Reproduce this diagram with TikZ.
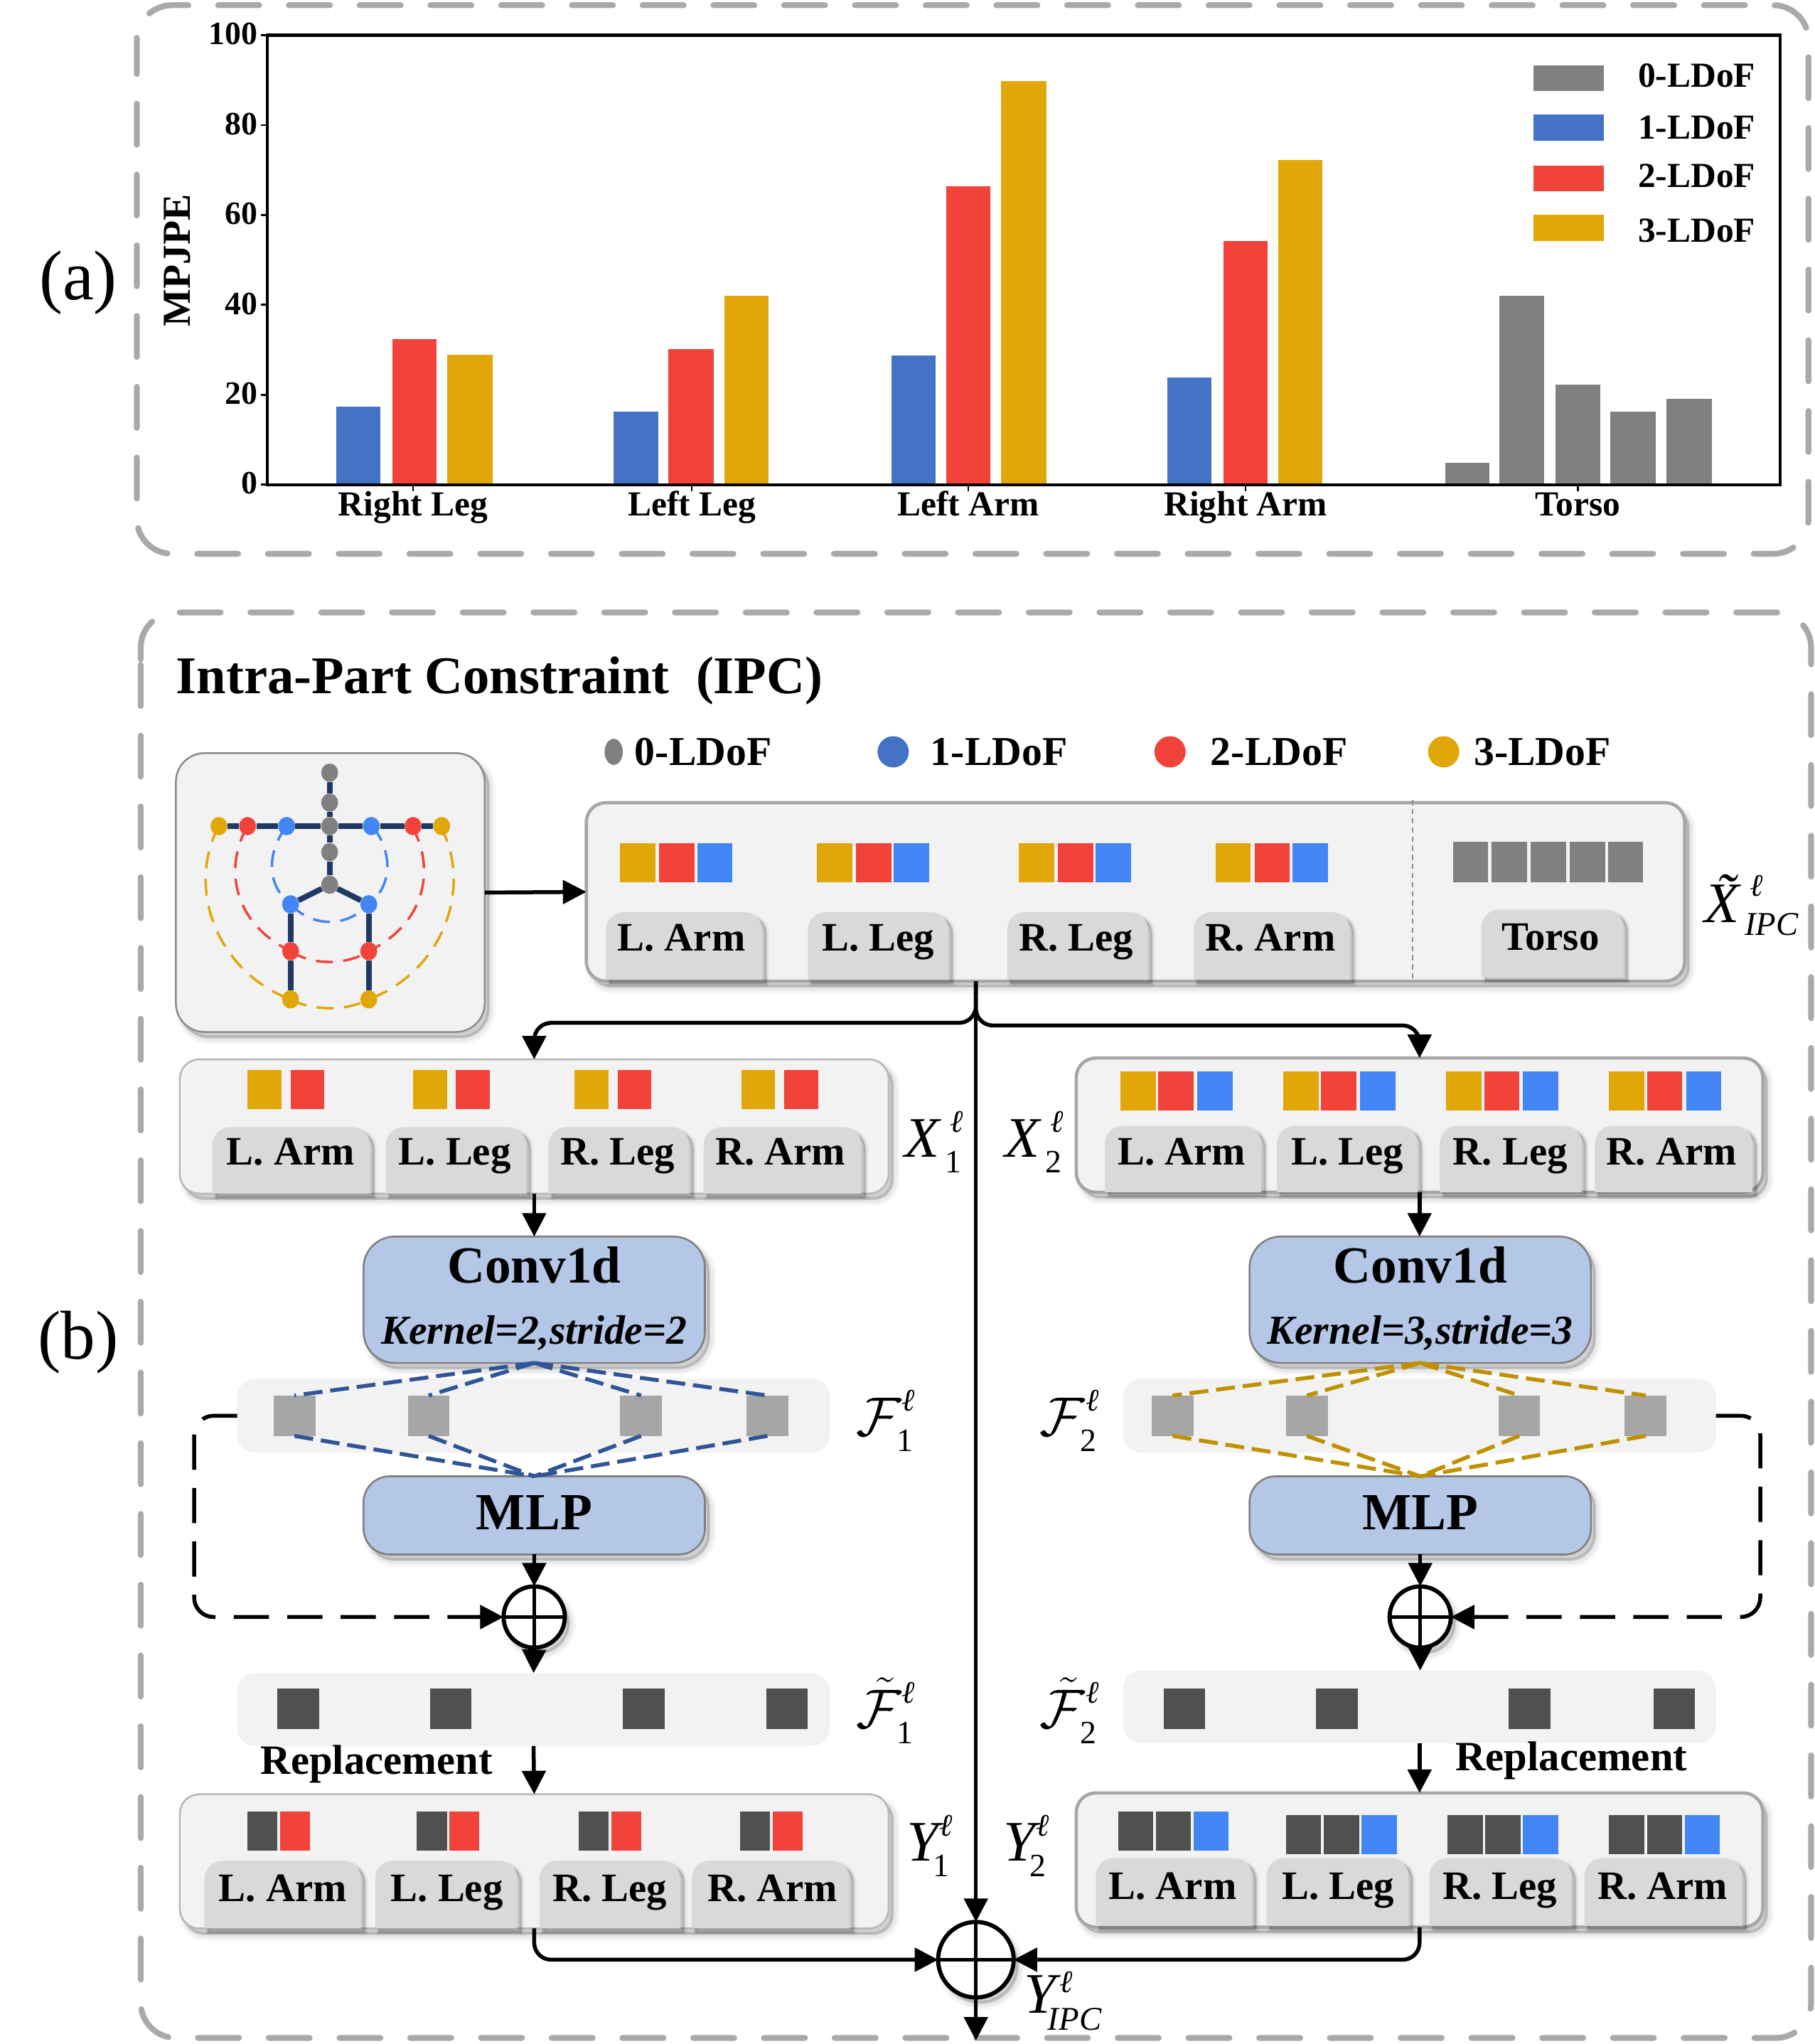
\documentclass[tikz,border=0pt]{standalone}
\usepackage{graphicx}
\usepackage{fontspec}
\setmainfont{Liberation Serif}
\usetikzlibrary{arrows.meta,shapes.geometric}
\newcommand{\fsz}[1]{\fontsize{#1}{#1}\selectfont}
\definecolor{barblue}{HTML}{4472C4}
\definecolor{barred}{HTML}{F2433B}
\definecolor{baryel}{HTML}{E1A709}
\definecolor{bargray}{HTML}{808080}
\definecolor{sqblue}{HTML}{4285F4}
\definecolor{sqgray}{HTML}{A6A6A6}
\definecolor{sqdark}{HTML}{505050}
\definecolor{boxfill}{HTML}{F2F2F2}
\definecolor{tabfillc}{HTML}{D9D9D9}
\definecolor{blockc}{HTML}{B4C7E7}
\definecolor{panelc}{HTML}{A9A9A9}
\definecolor{bone}{HTML}{1F3864}
\definecolor{dashblue}{HTML}{2F5597}
\definecolor{dashgold}{HTML}{BF9000}
\tikzset{
  softsh/.style={
    preaction={fill=black,draw=black,line width=9pt,opacity=.03,transform canvas={xshift=4pt,yshift=-5pt}},
    preaction={fill=black,draw=black,line width=5pt,opacity=.05,transform canvas={xshift=4pt,yshift=-5pt}},
    preaction={fill=black,draw=black,line width=2pt,opacity=.09,transform canvas={xshift=3pt,yshift=-4pt}}},
  tabsh/.style={
    preaction={fill=black,draw=black,line width=5pt,opacity=.04,transform canvas={xshift=3pt,yshift=-3pt}},
    preaction={fill=black,draw=black,line width=2pt,opacity=.12,transform canvas={xshift=3pt,yshift=-3pt}}},
  panel/.style={draw=panelc,line width=4.5pt,line cap=round,dash pattern=on 31.5pt off 22.8pt,rounded corners=27pt},
  boxheavy/.style={draw=sqgray,line width=2.5pt,fill=boxfill,rounded corners=15pt,softsh},
  boxthin/.style={draw=black!28,line width=1.4pt,fill=boxfill,rounded corners=15pt,softsh},
  skelbox/.style={draw=black!45,line width=1.4pt,fill=boxfill,rounded corners=22pt,softsh},
  block/.style={draw=black!50,line width=1.4pt,fill=blockc,rounded corners=24pt,softsh,align=center},
  strip/.style={fill=boxfill,rounded corners=14pt},
  tabfill/.style={fill=tabfillc,tabsh},
  tablabel/.style={font=\bfseries\fsz{31},inner sep=0pt,text height=21pt,text depth=7pt},
  blabel/.style={font=\bfseries\fsz{31.5},inner sep=0pt},
  ticklab/.style={font=\bfseries\fsz{25},inner sep=0pt,anchor=east},
  xlab/.style={font=\bfseries\fsz{27},inner sep=0pt,text height=18pt,text depth=6pt},
  leglab/.style={font=\bfseries\fsz{27},inner sep=0pt,anchor=west},
  flow/.style={draw=black,line width=3pt,-{Triangle[length=18pt,width=18pt]}},
  plain/.style={draw=black,line width=3pt},
  fbdash/.style={draw=black,line width=3pt,dash pattern=on 27pt off 14pt,rounded corners=15pt,-{Triangle[length=18pt,width=18pt]}},
  bluedash/.style={draw=dashblue,line width=3pt,dash pattern=on 14.5pt off 6pt},
  golddash/.style={draw=dashgold,line width=3pt,dash pattern=on 14.5pt off 6pt},
  oplus/.style={circle,draw=black,line width=3.2pt,fill=white,inner sep=0pt,outer sep=0pt,softsh},
  joint/.style={ellipse,inner sep=0pt},
  mathlab/.style={anchor=base west,inner sep=0pt,font=\itshape\fsz{44}},
  bonel/.style={draw=bone,line width=4.3pt},
}
% box node: style, name, x1, y1, x2, y2, text
\newcommand{\BX}[7][]{%
  \pgfmathsetmacro\cxx{(#3+#5)/2}\pgfmathsetmacro\cyy{(#4+#6)/2}%
  \pgfmathsetmacro\wwd{#5-#3}\pgfmathsetmacro\hhd{#6-#4}%
  \node[#1,minimum width=\wwd pt,minimum height=\hhd pt,inner sep=0pt,outer sep=0pt] (#2) at (\cxx,\cyy) {#7};}
% tab: x1 y1 x2 y2, label x, label y, text, name
\newcommand{\TB}[8]{%
  \pgfmathsetmacro\ya{#2+14}\pgfmathsetmacro\yb{#2+6}\pgfmathsetmacro\xa{#1+14}\pgfmathsetmacro\xb{#1+6}%
  \pgfmathsetmacro\xc{#3-14}\pgfmathsetmacro\xd{#3-6}%
  \path[tabfill] (#1,#4) -- (#1,\ya) .. controls (#1,\yb) and (\xb,#2) .. (\xa,#2) -- (\xc,#2)
     .. controls (\xd,#2) and (#3,\yb) .. (#3,\ya) -- (#3,#4) -- cycle;
  \node[tablabel] (#8) at (#5,#6) {#7};}
% math label text: base, sup x, sup raise, sub x, sub lower, sub text
\newcommand{\ML}[6]{%
  \makebox[0pt][l]{\hspace{#2pt}\raisebox{#3pt}{\fsz{24}\itshape ℓ}}%
  \makebox[0pt][l]{\hspace{#4pt}\raisebox{-#5pt}{\fsz{25}#6}}#1}
\newcommand{\scrF}{\scalebox{1.7}{$\mathcal{F}$}}
\newcommand{\scrG}{\scalebox{1.7}{$\tilde{\mathcal{F}}$}}
\begin{document}
\begin{tikzpicture}[x=1pt,y=-1pt]
\useasboundingbox (0,0) rectangle (1393,1568.7);
% ---------- panels
\draw[panel,dash phase=28.8pt] (105,29) -- (105,4) -- (1388,4) -- (1388,425) -- (105,425) -- (105,29);
\draw[panel] (108,506) -- (108,470) -- (1390,470) -- (1390,1564) -- (108,1564) -- (108,506);
\node[font=\fsz{54},inner sep=0pt] (lblA) at (60,217) {(a)};
\node[font=\fsz{53},inner sep=0pt] (lblB) at (60,1030) {(b)};
% ---------- chart
\foreach \a/\b/\c/\col in {258/292/312/barblue,301/335/260/barred,343/378/272/baryel,
  471/505/316/barblue,513/548/268/barred,556/590/227/baryel,
  684/718/273/barblue,726/760/143/barred,768/803/62/baryel,
  896/930/290/barblue,939/973/185/barred,981/1015/123/baryel,
  1109/1143/355/bargray,1151/1185/227/bargray,1194/1228/295/bargray,1236/1271/316/bargray,1279/1314/306/bargray}
  {\fill[\col] (\a,\c) rectangle (\b,372);}
\draw[line width=2.2pt] (205,27) rectangle (1366,372);
\foreach \v/\y in {0/372,20/303,40/234,60/165,80/96,100/27}{
  \draw[line width=1.5pt] (205,\y) -- (200,\y);
  \node[ticklab] (tick\v) at (198,\y-1) {\v};
}
\foreach \x/\t/\n in {317/Right Leg/rl,531/Left Leg/ll,743/Left Arm/la,956/Right Arm/ra,1211/Torso/to}{
  \draw[line width=1.2pt] (\x,372) -- (\x,377);
  \node[xlab] (x\n) at (\x,390) {\t};
}
\node[font=\bfseries\fsz{30.5},rotate=90,inner sep=0pt] (ylab) at (136,200) {MPJPE};
\foreach \y/\h/\col/\t in {60/58/bargray/0,98/98/barblue/1,137/135/barred/2,175/177/baryel/3}{
  \fill[\col] (1177,\y-10) rectangle (1231,\y+10);
  \node[leglab] (leg\t) at (1257,\h) {\t-LDoF};
}
% ---------- title and legend
\node[font=\bfseries\fsz{40.7},inner sep=0pt,anchor=base west] (title) at (135,532) {Intra-Part Constraint\ \ (IPC)};
\fill[bargray] (471,577) ellipse (7 and 10);
\node[blabel,anchor=west] (d0) at (487,577) {0-LDoF};
\fill[barblue] (685.5,577) circle (12);
\node[blabel,anchor=west] (d1) at (714,577) {1-LDoF};
\fill[barred] (898,577) circle (12);
\node[blabel,anchor=west] (d2) at (929,577) {2-LDoF};
\fill[baryel] (1108,577) circle (12);
\node[blabel,anchor=west] (d3) at (1131,577) {3-LDoF};
% ---------- skeleton
\BX[skelbox]{skel}{135}{578}{372}{792}{}
\begin{scope}[line width=1.9pt,dash pattern=on 13pt off 8pt]
\draw[sqblue] (220,634) .. controls (204,655) and (205,680) .. (223,694);
\draw[sqblue] (286,634) .. controls (302,655) and (301,680) .. (283,694);
\draw[sqblue] (223,694) .. controls (240,712) and (266,712) .. (283,694);
\draw[barred] (190,634) .. controls (172,665) and (178,708) .. (223,730);
\draw[barred] (316,634) .. controls (334,665) and (328,708) .. (283,730);
\draw[barred] (223,730) .. controls (240,741) and (266,741) .. (283,730);
\draw[baryel] (168,634) .. controls (143,680) and (165,745) .. (223,767);
\draw[baryel] (338,634) .. controls (363,680) and (341,745) .. (283,767);
\draw[baryel] (223,767) .. controls (240,776) and (266,776) .. (283,767);
\end{scope}
\foreach \n/\x/\y/\c in {jh/253/593/bargray,jn/253/616/bargray,jc/253/634/bargray,js/253/654/bargray,jp/253/679/bargray,
  jla/220/634/sqblue,jlb/190/634/barred,jlc/168/634/baryel,jra/285/634/sqblue,jrb/317/634/barred,jrc/339/634/baryel,
  jhl/223/694/sqblue,jhr/283/694/sqblue,jkl/223/730/barred,jkr/283/730/barred,jfl/223/767/baryel,jfr/283/767/baryel}
  {\node[joint,fill=\c,minimum width=13pt,minimum height=14pt] (\n) at (\x,\y) {};}
\foreach \a/\b in {jh/jn,jn/jc,jc/js,js/jp,jc/jla,jla/jlb,jlb/jlc,jc/jra,jra/jrb,jrb/jrc,jp/jhl,jp/jhr,jhl/jkl,jkl/jfl,jhr/jkr,jkr/jfr}
  {\draw[bonel] (\a) -- (\b);}
% ---------- input box
\BX[boxheavy]{inbox}{450}{616}{1293}{753}{}
\foreach \x in {476,627,782,933}{
  \fill[baryel] (\x,647) rectangle ++(27,30);
  \fill[barred] (\x+30,647) rectangle ++(27,30);
  \fill[sqblue] (\x+59,647) rectangle ++(27,30);
}
\foreach \x in {1115,1145,1175,1205,1234}{\fill[bargray] (\x,646) rectangle ++(27,31);}
\draw[black!45,line width=1.3pt,dash pattern=on 4pt off 3pt] (1084,614) -- (1084,752);
\TB{465}{700}{585}{752}{523}{723}{L. Arm}{ta1}
\TB{620}{700}{728}{752}{674}{723}{L. Leg}{ta2}
\TB{773}{700}{881}{752}{826}{723}{R. Leg}{ta3}
\TB{916}{700}{1036}{752}{975}{723}{R. Arm}{ta4}
\TB{1137}{698}{1246}{750}{1190}{722}{Torso}{ta5}
% ---------- X rows
\BX[boxthin]{xone}{138}{813}{682}{916}{}
\BX[boxheavy]{xtwo}{826}{812}{1353}{915}{}
\foreach \x in {190,317,441,569}{
  \fill[baryel] (\x,821) rectangle ++(26,30);
  \fill[barred] (\x+33,821) rectangle ++(26,30);
}
\foreach \x in {860,985,1110,1235}{
  \fill[baryel] (\x,822) rectangle ++(27,30);
  \fill[barred] (\x+29,822) rectangle ++(27,30);
  \fill[sqblue] (\x+59,822) rectangle ++(27,30);
}
\TB{163}{865}{284}{916}{223}{887}{L. Arm}{tb1}
\TB{296}{865}{404}{916}{349}{887}{L. Leg}{tb2}
\TB{421}{865}{529}{916}{474}{887}{R. Leg}{tb3}
\TB{540}{865}{661}{916}{599}{887}{R. Arm}{tb4}
\TB{848}{864}{968}{915}{907}{887}{L. Arm}{tc1}
\TB{980}{864}{1088}{915}{1034}{887}{L. Leg}{tc2}
\TB{1105}{864}{1214}{915}{1159}{887}{R. Leg}{tc3}
\TB{1224}{864}{1345}{915}{1283}{887}{R. Arm}{tc4}
% ---------- blocks
\foreach \n/\a/\b/\k in {one/279/541/2,two/959/1221/3}{
  \BX[block]{conv\n}{\a}{949}{\b}{1046}{}
  \pgfmathsetmacro\ctr{(\a+\b)/2}
  \node[font=\bfseries\fsz{40},inner sep=0pt] (cvt\n) at (\ctr,971) {Conv1d};
  \node[font=\bfseries\itshape\fsz{31.5},inner sep=0pt] (cvk\n) at (\ctr,1023) {Kernel=\k,stride=\k};
}
% ---------- F strips
\BX[strip]{fone}{182}{1058}{637}{1115}{}
\BX[strip]{ftwo}{862}{1058}{1317}{1115}{}
\foreach \n/\x in {fa/210,fb/313,fc/476,fd/573,ga/884,gb/987,gc/1150,gd/1247}{
  \pgfmathsetmacro\xe{\x+32}
  \BX[fill=sqgray]{\n}{\x}{1071}{\xe}{1102}{}
}
\BX[block,rounded corners=20pt]{mlpone}{279}{1133}{541}{1193}{}
\BX[block,rounded corners=20pt]{mlptwo}{959}{1133}{1221}{1193}{}
\node[font=\bfseries\fsz{40},inner sep=0pt] (mt1) at (410,1161) {MLP};
\node[font=\bfseries\fsz{40},inner sep=0pt] (mt2) at (1090,1161) {MLP};
\foreach \n in {fa,fb,fc,fd}{
  \draw[bluedash] (convone.south) -- (\n.north);
  \draw[bluedash] (\n.south) -- (mlpone.north);
}
\foreach \n in {ga,gb,gc,gd}{
  \draw[golddash] (convtwo.south) -- (\n.north);
  \draw[golddash] (\n.south) -- (mlptwo.north);
}
% ---------- tilde F strips
\BX[strip]{hone}{182}{1284}{637}{1340}{}
\BX[strip]{htwo}{862}{1282}{1317}{1338}{}
\foreach \x in {213,330,478,588,893,1010,1158,1269}{\fill[sqdark] (\x,1296) rectangle ++(32,31);}
% ---------- Y rows
\BX[boxthin]{yone}{138}{1377}{682}{1480}{}
\BX[boxheavy]{ytwo}{826}{1376}{1353}{1479}{}
\foreach \x in {190,320,444,568}{
  \fill[sqdark] (\x,1390) rectangle ++(23,30);
  \fill[barred] (\x+25,1390) rectangle ++(23,30);
}
\foreach \x/\y in {858/1390,987/1393,1111/1393,1235/1393}{
  \fill[sqdark] (\x,\y) rectangle ++(27,30);
  \fill[sqdark] (\x+29,\y) rectangle ++(27,30);
  \fill[sqblue] (\x+58,\y) rectangle ++(27,30);
}
\TB{157}{1428}{277}{1480}{217}{1452.5}{L. Arm}{td1}
\TB{288}{1428}{397}{1480}{343}{1452.5}{L. Leg}{td2}
\TB{414}{1428}{522}{1480}{468}{1452.5}{R. Leg}{td3}
\TB{531}{1428}{652}{1480}{593}{1452.5}{R. Arm}{td4}
\TB{841}{1426}{961}{1478}{900}{1450.5}{L. Arm}{te1}
\TB{972}{1426}{1081}{1478}{1027}{1450.5}{L. Leg}{te2}
\TB{1097}{1426}{1206}{1478}{1151}{1450.5}{R. Leg}{te3}
\TB{1216}{1426}{1337}{1478}{1276}{1450.5}{R. Arm}{te4}
\node[blabel,font=\bfseries\fsz{32}] (rep1) at (289,1354) {Replacement};
\node[blabel,font=\bfseries\fsz{32}] (rep2) at (1206,1351) {Replacement};
% ---------- oplus nodes
\node[oplus,minimum size=47pt] (pone) at (410,1241) {};
\node[oplus,minimum size=47pt] (ptwo) at (1090,1241) {};
\node[oplus,minimum size=58pt] (pall) at (749,1504) {};
\foreach \n in {pone,ptwo,pall}{
  \draw[plain] (\n.north) -- (\n.south);
  \draw[plain] (\n.west) -- (\n.east);
}
% ---------- connectors
\coordinate (split) at (749,753);
\coordinate (outend) at (749,1566);
\draw[flow] (skel.east) -- (inbox.west);
\draw[flow] (split) -- (pall.north);
\draw[flow,rounded corners=13pt] (split) -- (749,785) -- (410,785) -- (xone.north);
\draw[flow,rounded corners=13pt] (split) -- (749,787) -- (1089.5,787) -- (xtwo.north);
\draw[flow] (xone.south) -- (convone.north);
\draw[flow] (xtwo.south) -- (xtwo.south |- convtwo.north);
\draw[flow] (mlpone.south) -- (pone.north);
\draw[flow] (mlptwo.south) -- (ptwo.north);
\draw[flow] (pone.south) -- (hone.north);
\draw[flow] (ptwo.south) -- (ptwo.south |- htwo.north);
\draw[flow] (hone.south) -- (yone.north);
\draw[flow] (htwo.south) -- (htwo.south |- ytwo.north);
\draw[fbdash] (fone.west) -- (149,1086.5) -- (149,1241) -- (pone.west);
\draw[fbdash] (ftwo.east) -- (1351,1086.5) -- (1351,1241) -- (ptwo.east);
\draw[flow,rounded corners=13pt] (yone.south) -- (410,1504) -- (pall.west);
\draw[flow,rounded corners=13pt] (ytwo.south) -- (1089.5,1504) -- (pall.east);
\draw[flow] (pall.south) -- (outend);
% ---------- math labels
\node[mathlab] (mXin) at (1308,708) {\ML{\~X}{35}{20}{31}{10}{\fsz{25.5}IPC}};
\node[mathlab] (mX1) at (694,888) {\ML{X}{35}{19}{31}{12}{\upshape 1}};
\node[mathlab] (mX2) at (771,888) {\ML{X}{35}{19}{31}{12}{\upshape 2}};
\node[mathlab] (mF1) at (657,1102) {\ML{\scrF}{35}{19}{31}{12}{\upshape 1}};
\node[mathlab] (mF2) at (798,1102) {\ML{\scrF}{35}{19}{31}{12}{\upshape 2}};
\node[mathlab] (mG1) at (657,1326) {\ML{\scrG}{35}{19}{31}{12}{\upshape 1}};
\node[mathlab] (mG2) at (798,1326) {\ML{\scrG}{35}{19}{31}{12}{\upshape 2}};
\node[mathlab] (mY1) at (696,1428) {\ML{Y}{25}{19}{20}{12}{\upshape 1}};
\node[mathlab] (mY2) at (770,1428) {\ML{Y}{25}{19}{20}{12}{\upshape 2}};
\node[mathlab] (mYall) at (786,1545) {\ML{Y}{27}{16}{18}{13}{\fsz{25.5}IPC}};
\end{tikzpicture}
\end{document}
